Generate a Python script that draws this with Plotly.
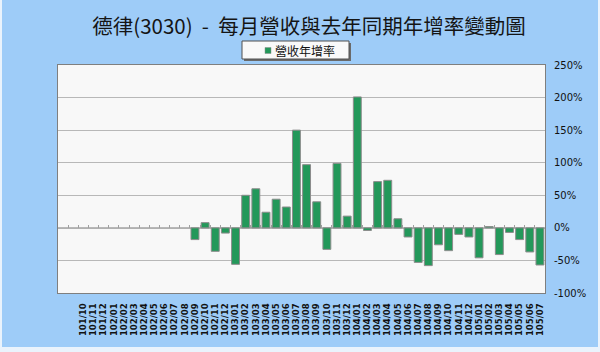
import plotly.graph_objects as go

# ---------------- data ----------------
title_text = "德律(3030)\u00a0\u00a0-\u00a0\u00a0每月營收與去年同期年增率變動圖"
series_name = "營收年增率"

months = [
    "101/10", "101/11", "101/12",
    "102/01", "102/02", "102/03", "102/04", "102/05", "102/06",
    "102/07", "102/08", "102/09", "102/10", "102/11", "102/12",
    "103/01", "103/02", "103/03", "103/04", "103/05", "103/06",
    "103/07", "103/08", "103/09", "103/10", "103/11", "103/12",
    "104/01", "104/02", "104/03", "104/04", "104/05", "104/06",
    "104/07", "104/08", "104/09", "104/10", "104/11", "104/12",
    "105/01", "105/02", "105/03", "105/04", "105/05", "105/06",
    "105/07",
]

yoy_pct = [
    None, None, None,
    None, None, None, None, None, None,
    None, None, -18, 8, -36, -8,
    -56, 50, 60, 24, 44, 32,
    150, 97, 40, -33, 99, 18,
    201, -4, 71, 73, 14, -14,
    -53, -58, -26, -35, -10, -14,
    -46, 2, -41, -7, -18, -37,
    -57,
]

y_ticks = [-100, -50, 0, 50, 100, 150, 200, 250]
y_tick_labels = ["-100%", "-50%", "0%", "50%", "100%", "150%", "200%", "250%"]

# ---------------- layout constants ----------------
W, H = 600, 352
M_L, M_R, M_T, M_B = 58, 55, 65, 59
PW, PH = W - M_L - M_R, H - M_T - M_B
LEAD_SLOTS = 2          # empty category slots before the first label
N_SLOTS = LEAD_SLOTS + len(months)
Y_MIN, Y_MAX = -100, 250

BLUE = "#9ECCF8"
GREEN = "#23985A"


def fx(px):
    return (px - M_L) / PW


def fy(py):
    return (H - M_B - py) / PH


xpos = [LEAD_SLOTS + i for i in range(len(months))]

fig = go.Figure()
fig.add_trace(go.Bar(
    x=xpos, y=yoy_pct, name=series_name, width=0.78,
    marker=dict(color=GREEN, line=dict(color="#8C8C8C", width=1)),
    showlegend=False,
))
# dummy trace so the zero-level category axis is drawn
fig.add_trace(go.Scatter(x=[None], y=[None], xaxis="x2", showlegend=False,
                         hoverinfo="skip"))

shapes = [
    # light frame strips around the blue background
    dict(type="rect", xref="paper", yref="paper", x0=fx(0), x1=fx(W), y0=fy(H), y1=fy(347),
         fillcolor="#EAF3FC", line=dict(width=0), layer="below"),
    dict(type="rect", xref="paper", yref="paper", x0=fx(0), x1=fx(2), y0=fy(H), y1=fy(0),
         fillcolor="#EAF3FC", line=dict(width=0), layer="below"),
    dict(type="rect", xref="paper", yref="paper", x0=fx(598), x1=fx(W), y0=fy(H), y1=fy(0),
         fillcolor="#EAF3FC", line=dict(width=0), layer="below"),
    # legend box shadow + box
    dict(type="rect", xref="paper", yref="paper", x0=fx(244), x1=fx(351), y0=fy(61), y1=fy(43),
         fillcolor="#6A6A6A", line=dict(width=0)),
    dict(type="rect", xref="paper", yref="paper", x0=fx(242), x1=fx(349), y0=fy(59), y1=fy(41),
         fillcolor="#F9F9F9", line=dict(color="#505050", width=1)),
    # legend swatch
    dict(type="rect", xref="paper", yref="paper", x0=fx(265), x1=fx(271), y0=fy(53.5), y1=fy(47.5),
         fillcolor=GREEN, line=dict(color="#8C8C8C", width=0.5)),
]

annotations = [
    dict(text=series_name, xref="paper", yref="paper", x=fx(273), y=fy(50.5),
         xanchor="left", yanchor="middle", showarrow=False,
         font=dict(family="Noto Sans CJK TC", size=12, color="#111111")),
]

fig.update_layout(
    width=W, height=H,
    margin=dict(l=M_L, r=M_R, t=M_T, b=M_B, pad=0),
    paper_bgcolor=BLUE,
    plot_bgcolor="#F8F8F8",
    title=dict(text=title_text, x=309 / W, xanchor="center", y=1 - 27 / H, yanchor="middle",
               font=dict(family="Noto Sans CJK TC", size=20.5, color="#151515")),
    bargap=0.2,
    showlegend=False,
    xaxis=dict(
        range=[-0.5, N_SLOTS - 0.5], tickvals=xpos, ticktext=months,
        tickangle=-90, showgrid=False, zeroline=False,
        ticks="outside", ticklen=6, tickcolor="rgba(0,0,0,0)",
        tickfont=dict(family="DejaVu Sans", size=8.5, color="#111111", weight="bold"),
        showline=True, mirror=True, linecolor="#7F7F7F", linewidth=1,
    ),
    xaxis2=dict(
        overlaying="x", anchor="free", side="bottom",
        position=(0 - Y_MIN) / (Y_MAX - Y_MIN),
        range=[-0.5, N_SLOTS - 0.5],
        tickvals=[i + 0.5 for i in range(N_SLOTS - 1)],
        ticks="inside", ticklen=3, tickcolor="#A0A0A0", tickwidth=1,
        showticklabels=False, showgrid=False, zeroline=False,
        showline=True, linecolor="#B0B0B0", linewidth=1, layer="below traces",
    ),
    yaxis=dict(
        side="right", range=[Y_MIN, Y_MAX], tickvals=y_ticks, ticktext=y_tick_labels,
        showgrid=True, gridcolor="#B8B8B8", gridwidth=1, zeroline=False,
        ticks="outside", ticklen=6, tickcolor="rgba(0,0,0,0)",
        tickfont=dict(family="DejaVu Sans", size=10, color="#111111"),
        showline=True, mirror=True, linecolor="#7F7F7F", linewidth=1,
    ),
    shapes=shapes,
    annotations=annotations,
)

fig.write_html("out.html")
